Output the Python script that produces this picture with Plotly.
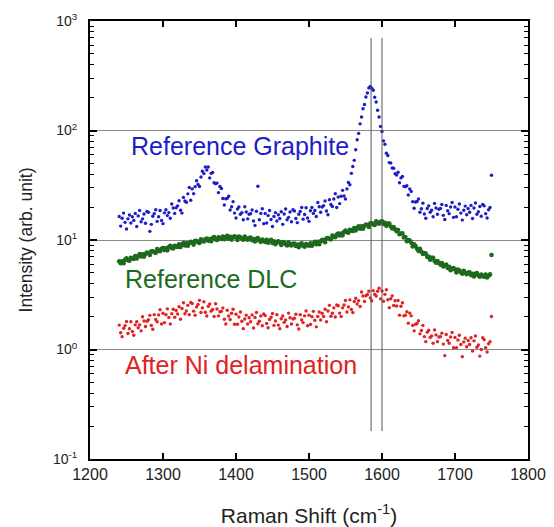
import numpy as np
import plotly.graph_objects as go

# Raman shift sampling grid (cm^-1)
SHIFT_START = 1240
SHIFT_STOP = 1750
SHIFT_STEP = 2
shift = np.arange(SHIFT_START, SHIFT_STOP + 1, SHIFT_STEP)

graphite = [
    16.4, 13.4, 15.8, 17.6, 14.5, 12.6, 15.6, 16.9, 14.3, 16.3,
    15.1, 17.5, 13.3, 16.6, 18.6, 14.7, 15.6, 17.3, 14.2, 18.2,
    17.9, 12.0, 13.9, 16.5, 17.4, 18.9, 14.8, 16.3, 18.6, 15.1,
    14.1, 17.7, 18.9, 16.7, 17.8, 15.8, 21.3, 19.6, 17.5, 19.7,
    20.5, 22.8, 18.7, 17.6, 24.5, 22.7, 22.1, 26.4, 30.2, 23.1,
    29.3, 26.5, 30.7, 34.8, 32.2, 30.8, 37.6, 42.4, 40.4, 46.4,
    43.6, 46.4, 36.9, 40.6, 41.4, 33.3, 32.7, 33.1, 27.1, 30.8,
    29.5, 23.9, 20.9, 23.8, 24.0, 25.1, 18.8, 20.1, 22.4, 17.6,
    15.9, 19.2, 20.0, 17.2, 17.8, 15.3, 20.1, 18.0, 15.6, 17.2,
    17.4, 18.8, 14.9, 13.6, 18.3, 31.0, 15.3, 17.5, 19.3, 14.1,
    17.5, 14.3, 16.7, 18.6, 15.4, 13.3, 16.4, 17.8, 14.9, 17.0,
    15.7, 18.1, 13.9, 17.3, 19.2, 15.3, 16.1, 18.0, 14.7, 18.9,
    18.4, 15.7, 14.4, 17.2, 18.2, 19.8, 15.5, 17.1, 19.7, 15.9,
    14.8, 18.5, 19.8, 17.5, 18.6, 16.4, 22.0, 20.1, 17.9, 20.0,
    20.6, 22.7, 18.4, 17.0, 23.3, 21.1, 20.2, 23.7, 26.5, 19.8,
    24.7, 21.5, 25.1, 28.4, 25.2, 23.7, 29.3, 33.5, 32.0, 40.6,
    46.9, 53.4, 66.7, 82.4, 94.1, 115, 133, 158, 173, 202,
    220, 245, 252, 243, 233, 201, 182, 153, 133, 109,
    97.9, 80.4, 74.9, 62.1, 59.2, 50.9, 50.5, 45.5, 45.2, 40.3,
    39.2, 41.6, 33.3, 36.9, 38.1, 30.9, 30.7, 31.3, 25.8, 29.2,
    27.8, 22.4, 19.5, 22.2, 22.5, 23.7, 17.9, 19.3, 21.7, 17.3,
    15.8, 19.4, 20.5, 17.9, 18.7, 16.3, 21.6, 19.6, 17.2, 19.1,
    19.4, 21.1, 16.8, 15.4, 20.7, 18.5, 17.4, 20.0, 22.0, 16.1,
    20.0, 16.3, 19.1, 21.3, 17.6, 15.2, 18.7, 20.4, 17.0, 19.4,
    17.9, 20.7, 15.7, 19.6, 21.8, 17.2, 18.1, 20.2, 16.5, 21.1,
    20.5, 17.4, 15.9, 18.9, 19.8, 39.0,
]

dlc = [
    6.39, 6.14, 6.40, 6.14, 6.60, 6.80, 6.53, 6.47, 6.87, 6.80,
    6.73, 7.15, 6.79, 7.14, 7.43, 7.06, 7.42, 7.05, 7.47, 7.69,
    7.62, 7.30, 7.90, 7.89, 7.72, 7.63, 8.26, 8.00, 7.91, 8.30,
    8.45, 8.09, 8.40, 8.04, 8.61, 8.84, 8.47, 8.36, 8.85, 8.74,
    8.62, 9.13, 8.65, 9.07, 9.40, 8.92, 9.34, 8.85, 9.37, 9.62,
    9.49, 9.08, 9.81, 9.77, 9.54, 9.41, 10.15, 9.82, 9.68, 10.14,
    10.30, 9.85, 10.20, 9.74, 10.40, 10.65, 10.18, 10.01, 10.57, 10.40,
    10.21, 10.75, 10.15, 10.58, 10.92, 10.29, 10.71, 10.08, 10.61, 10.79,
    10.56, 10.02, 10.73, 10.61, 10.28, 10.04, 10.73, 10.29, 10.05, 10.43,
    10.51, 9.96, 10.22, 9.68, 10.24, 10.40, 9.86, 9.62, 10.08, 9.84,
    9.60, 10.05, 9.43, 9.78, 10.03, 9.41, 9.75, 9.14, 9.57, 9.72,
    9.49, 8.99, 9.60, 9.47, 9.15, 8.92, 9.53, 9.12, 8.91, 9.24,
    9.30, 8.82, 9.07, 8.60, 9.13, 9.31, 8.86, 8.69, 9.16, 9.00,
    8.85, 9.34, 8.85, 9.27, 9.62, 9.14, 9.61, 9.14, 9.72, 10.02,
    9.94, 9.56, 10.38, 10.40, 10.22, 10.14, 11.00, 10.71, 10.62, 11.19,
    11.43, 11.01, 11.47, 11.03, 11.85, 12.22, 11.76, 11.64, 12.36, 12.24,
    12.11, 12.85, 12.22, 12.85, 13.35, 12.70, 13.34, 12.67, 13.45, 13.84,
    13.70, 13.13, 14.21, 14.20, 13.90, 13.72, 14.81, 14.32, 14.09, 14.69,
    14.81, 14.01, 14.32, 13.46, 14.12, 14.16, 13.25, 12.73, 13.10, 12.55,
    12.01, 12.31, 11.30, 11.46, 11.49, 10.54, 10.66, 9.75, 9.98, 9.89,
    9.43, 8.73, 9.12, 8.79, 8.32, 7.94, 8.31, 7.80, 7.47, 7.60,
    7.51, 7.00, 7.07, 6.60, 6.87, 6.88, 6.44, 6.20, 6.41, 6.18,
    5.96, 6.17, 5.72, 5.88, 5.97, 5.55, 5.70, 5.30, 5.50, 5.55,
    5.38, 5.06, 5.38, 5.27, 5.07, 4.93, 5.24, 5.00, 4.87, 5.04,
    5.06, 4.78, 4.91, 4.65, 4.92, 4.99, 4.73, 4.62, 4.83, 4.72,
    4.61, 4.83, 4.54, 4.72, 4.85, 7.3,
]

ni_delaminated = [
    1.67, 1.42, 1.31, 1.56, 1.65, 1.80, 1.40, 1.55, 1.79, 1.46,
    1.35, 1.68, 1.79, 1.58, 1.68, 1.48, 1.99, 1.82, 1.62, 1.81,
    1.87, 2.05, 1.66, 1.53, 2.08, 1.88, 1.79, 2.07, 2.31, 1.71,
    2.14, 1.76, 2.08, 2.35, 1.96, 1.71, 2.12, 2.33, 1.97, 2.27,
    2.11, 2.46, 1.89, 2.37, 2.67, 2.12, 2.25, 2.53, 2.08, 2.69,
    2.63, 2.24, 2.06, 2.45, 2.58, 2.81, 2.18, 2.40, 2.73, 2.19,
    2.02, 2.48, 2.60, 2.24, 2.32, 2.00, 2.62, 2.34, 2.03, 2.21,
    2.23, 2.39, 1.89, 1.71, 2.28, 2.02, 1.88, 2.14, 2.33, 1.70,
    2.10, 1.70, 1.98, 2.20, 1.81, 1.55, 1.90, 2.06, 1.71, 1.95,
    1.79, 2.07, 1.57, 1.96, 2.18, 1.72, 1.81, 2.02, 1.65, 2.11,
    2.04, 1.73, 1.58, 1.88, 1.97, 2.13, 1.66, 1.82, 2.08, 1.67,
    1.55, 1.91, 2.02, 1.77, 1.86, 1.62, 2.15, 1.95, 1.71, 1.90,
    1.93, 2.10, 1.68, 1.54, 2.08, 1.86, 1.76, 2.03, 2.25, 1.65,
    2.06, 1.69, 1.99, 2.23, 1.85, 1.61, 2.00, 2.20, 1.86, 2.14,
    2.00, 2.33, 1.79, 2.25, 2.53, 2.01, 2.14, 2.40, 1.98, 2.55,
    2.51, 2.15, 2.00, 2.40, 2.55, 2.80, 2.20, 2.45, 2.84, 2.32,
    2.18, 2.74, 2.94, 2.60, 2.79, 2.47, 3.35, 3.08, 2.75, 3.10,
    3.18, 3.41, 2.95, 2.79, 3.45, 3.20, 3.08, 3.40, 3.62, 2.90,
    3.42, 2.76, 3.19, 3.51, 2.85, 2.41, 2.91, 3.09, 2.52, 2.79,
    2.50, 2.80, 2.06, 2.48, 2.67, 2.03, 2.06, 2.21, 1.74, 2.15,
    2.03, 1.66, 1.48, 1.70, 1.73, 1.83, 1.39, 1.49, 1.66, 1.31,
    1.18, 1.44, 1.50, 1.29, 1.33, 1.14, 1.51, 1.36, 1.18, 1.30,
    1.31, 1.41, 1.12, 0.88, 1.37, 1.21, 1.14, 1.30, 1.43, 1.04,
    1.29, 1.04, 1.22, 1.35, 1.11, 0.86, 1.17, 1.27, 1.06, 1.21,
    1.11, 1.28, 0.97, 1.20, 1.33, 1.05, 1.10, 0.87, 1.00, 1.28,
    1.23, 1.04, 0.95, 1.13, 1.18, 2.0,
]

# Reference band positions (cm^-1) and the span of their marker lines
band_positions = [1585, 1600]
band_span = [0.18, 700]

BLUE, GREEN, RED = "#1c1cc8", "#1d6a1d", "#e02222"

series = [
    ("Reference Graphite", graphite, BLUE, 3.4),
    ("Reference DLC", dlc, GREEN, 4.6),
    ("After Ni delamination", ni_delaminated, RED, 3.4),
]

FONT = "Liberation Sans, Arial, sans-serif"
INK = "#222222"

fig = go.Figure()

for name, values, color, size in series:
    fig.add_trace(go.Scatter(
        x=shift, y=values, mode="markers", name=name,
        marker=dict(size=size, color=color, line=dict(width=0)),
        showlegend=False,
    ))

for pos in band_positions:
    fig.add_trace(go.Scatter(
        x=[pos, pos], y=band_span, mode="lines",
        line=dict(color="#555555", width=1), showlegend=False,
        hoverinfo="skip",
    ))

# Series labels placed beside each spectrum (y given as log10 on the log axis)
labels = [
    ("Reference Graphite", 1254, 1.854, BLUE),
    ("Reference DLC", 1245, 0.64, GREEN),
    ("After Ni delamination", 1245, -0.145, RED),
]
for text, lx, ly, color in labels:
    fig.add_annotation(
        x=lx, y=ly, xref="x", yref="y", text=text, showarrow=False,
        xanchor="left", yanchor="middle",
        font=dict(family=FONT, size=25, color=color),
    )

minor_vals = [m * 10.0 ** e for e in range(-1, 3) for m in range(2, 10)]

fig.update_layout(
    width=554, height=527,
    margin=dict(l=90, r=26, t=21, b=68),
    paper_bgcolor="white", plot_bgcolor="white",
    font=dict(family=FONT, color=INK),
    xaxis=dict(
        range=[1200, 1800], tickvals=[1200, 1300, 1400, 1500, 1600, 1700, 1800],
        ticks="inside", ticklen=6, tickwidth=1.5, tickcolor="black",
        showline=True, linewidth=2, linecolor="black", mirror="ticks",
        showgrid=False, zeroline=False, automargin=False,
        tickfont=dict(size=16, family=FONT, color=INK),
        title=dict(text="Raman Shift (cm<sup>-1</sup>)",
                   font=dict(size=21, family=FONT, color=INK), standoff=27),
    ),
    yaxis=dict(
        type="log", range=[-1, 3],
        tickvals=[0.1, 1, 10, 100, 1000],
        ticktext=["10<sup>-1</sup>", "10<sup>0</sup>", "10<sup>1</sup>",
                  "10<sup>2</sup>", "10<sup>3</sup>"],
        ticks="inside", ticklen=7, tickwidth=1.5, tickcolor="black",
        ticklabelstandoff=8, automargin=False,
        minor=dict(tickvals=minor_vals, ticks="inside", ticklen=4,
                   tickwidth=1, tickcolor="black", showgrid=False),
        showline=True, linewidth=2, linecolor="black", mirror="ticks",
        showgrid=True, gridcolor="#8a8a8a", gridwidth=1, zeroline=False,
        tickfont=dict(size=14, family=FONT, color=INK),
        title=dict(text="Intensity (arb. unit)",
                   font=dict(size=17.5, family=FONT, color=INK), standoff=16),
    ),
)

fig.write_html("out.html")
